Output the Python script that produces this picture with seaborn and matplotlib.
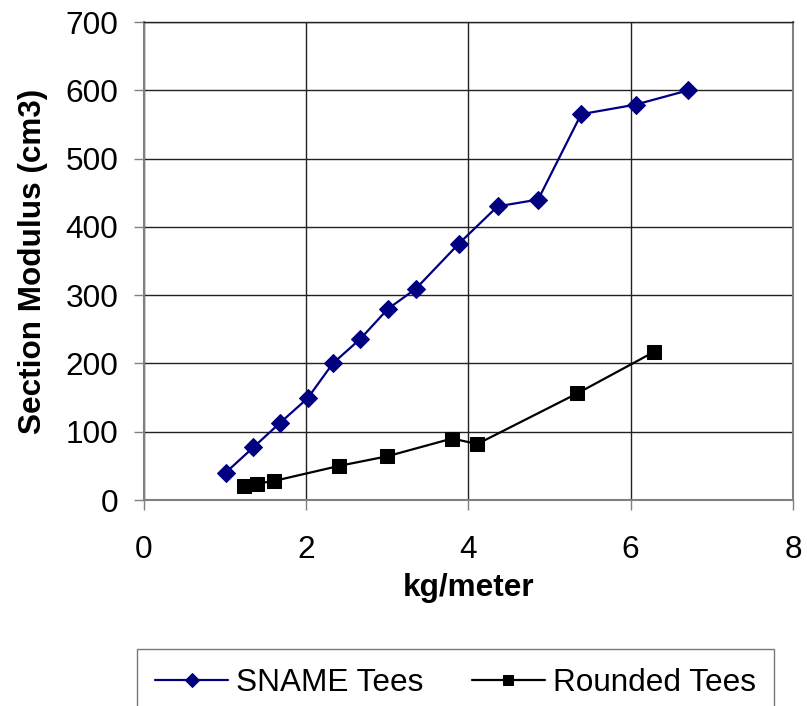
import matplotlib
matplotlib.use("Agg")
import matplotlib.pyplot as plt
import seaborn as sns
import pandas as pd

# data
sname_x = [1.01, 1.35, 1.68, 2.02, 2.33, 2.67, 3.01, 3.35, 3.88, 4.36, 4.86, 5.39, 6.06, 6.71]
sname_y = [40, 77, 113, 149, 200, 236, 280, 309, 375, 430, 440, 565, 579, 600]
rounded_x = [1.24, 1.40, 1.61, 2.41, 3.00, 3.80, 4.11, 5.34, 6.29]
rounded_y = [20, 24, 28, 50, 64, 90, 82, 156, 217]

x_ticks = [0, 2, 4, 6, 8]
y_ticks = [0, 100, 200, 300, 400, 500, 600, 700]

sname = pd.DataFrame({"x": sname_x, "y": sname_y})
rounded = pd.DataFrame({"x": rounded_x, "y": rounded_y})

sns.set_style("white")
plt.rcParams["font.family"] = ["Liberation Sans", "DejaVu Sans"]
plt.rcParams["text.color"] = "black"
plt.rcParams["axes.labelcolor"] = "black"
fs = 22.7

fig = plt.figure(figsize=(8.07, 7.06), dpi=100)
ax = fig.add_axes([143.7 / 807, 1 - 500 / 706, (793 - 143.7) / 807, (500 - 22) / 706])

sns.lineplot(data=sname, x="x", y="y", ax=ax, color="#000080", marker="D",
             markersize=9, markeredgecolor="#000080", linewidth=1.6,
             label="SNAME Tees", sort=False, legend=False)
sns.lineplot(data=rounded, x="x", y="y", ax=ax, color="black", marker="s",
             markersize=10, markeredgecolor="black", linewidth=1.6,
             label="Rounded Tees", sort=False, legend=False)

ax.set_xlim(0, 8)
ax.set_ylim(0, 700)
ax.set_xticks(x_ticks)
ax.set_yticks(y_ticks)
ax.grid(True, color="#222222", linewidth=1.0)
ax.set_axisbelow(True)

for side in ["left", "bottom", "right"]:
    ax.spines[side].set_color("#808080")
    ax.spines[side].set_linewidth(1.5)
ax.spines["top"].set_color("#222222")
ax.spines["top"].set_linewidth(1.0)

ax.tick_params(axis="both", direction="out", length=7.2, width=1.0, color="#808080",
               labelsize=fs, labelcolor="black")
ax.tick_params(axis="x", pad=18, bottom=True)
ax.tick_params(axis="y", pad=11, left=True)

ax.set_xlabel("kg/meter", fontsize=fs, fontweight="bold")
ax.set_ylabel("Section Modulus (cm3)", fontsize=fs, fontweight="bold")
ax.xaxis.set_label_coords(0.5, -0.152)
ax.yaxis.set_label_coords(-0.148, 0.5)

handles, labels = ax.get_legend_handles_labels()
leg = fig.legend(handles, labels, loc="upper center",
                 bbox_to_anchor=((136 + 775) / 2 / 807, 1 - 649 / 706),
                 borderaxespad=0, ncol=2, fontsize=fs, frameon=True, fancybox=False,
                 borderpad=0.6, handlelength=2.3, handletextpad=0.25,
                 columnspacing=1.55, markerscale=0.75)
leg.get_frame().set_edgecolor("#555555")
leg.get_frame().set_linewidth(1.0)

fig.savefig("out.png", dpi=100)
